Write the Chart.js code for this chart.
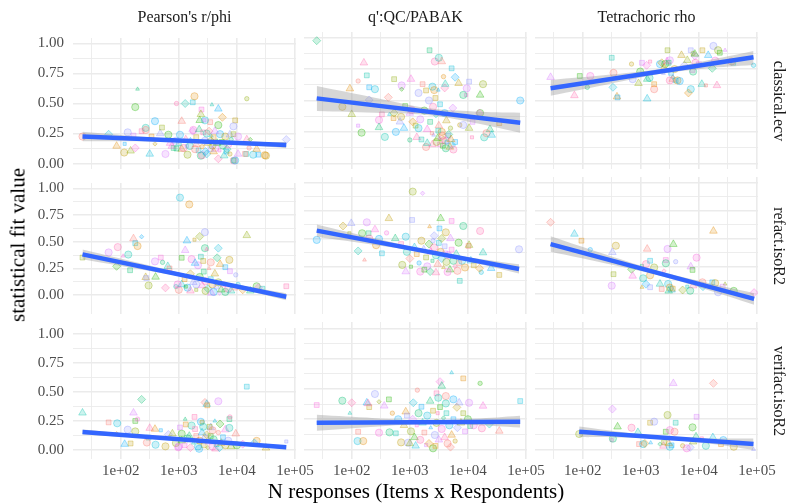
<!DOCTYPE html>
<html><head><meta charset="utf-8">
<script src="https://cdn.jsdelivr.net/npm/chart.js@4.4.1/dist/chart.umd.min.js"></script>
<style>
html,body{margin:0;padding:0;background:#fff;}
#wrap{position:relative;width:792px;height:503px;overflow:hidden;font-family:"Liberation Serif","Times New Roman",serif;}
canvas{position:absolute;}
.t{position:absolute;white-space:nowrap;line-height:1;}
</style></head><body><div id="wrap"></div>
<script>
// ---------- labels ----------
const colNames = ["Pearson's r/phi", "q':QC/PABAK", "Tetrachoric rho"];
const rowNames = ["classical.ecv", "refact.isoR2", "verifact.isoR2"];
const xTitle = "N responses (Items x Respondents)";
const yTitle = "statistical fit value";
const xTickValues = [100, 1000, 10000, 100000];
const xTickLabels = ["1e+02", "1e+03", "1e+04", "1e+05"];
const yTickValues = [0, 0.25, 0.5, 0.75, 1];
const yTickLabels = ["0.00", "0.25", "0.50", "0.75", "1.00"];

// ---------- row 1: classical.ecv ----------
const pearsonEcvX = [22,62,85,117,115,132,148,166,178,178,195,229,269,269,316,339,389,389,479,513,589,661,708,813,912,1288,1122,1738,1862,1047,1122,1380,1413,1738,2291,2455,2399,2512,3715,3467,2818,5623,4786,9333,8710,14790,10470,8710,8913,6761,14790,14450,16220,19050,21880,23440,31620,70790,2399,2754,4786,1778,2239,2630,3020,3311,3631,3981,5129,6310,7586,8710,10470,16980,759,912,1202,1549,1995,2188,2512,2884,3162,3548,3802,4266,4571,5012,5754,4786,6026,13800,9333,30200,1585,1995,2818,3548,4169,5495,7079,7943,1318,1000,1905,3020,3981,6607,7586,891];
const pearsonEcvY = [.225,.244,.146,.164,.092,.26,.106,.233,.47,.13,.62,.27,.297,.28,.08,.225,.353,.164,.25,.30,.08,.24,.17,.13,.50,.50,.353,.51,.56,.24,.12,.146,.074,.27,.36,.45,.066,.07,.49,.345,.36,.385,.455,.36,.31,.54,.08,.026,.025,.12,.20,.08,.13,.074,.12,.074,.066,.20,.41,.36,.32,.28,.283,.26,.25,.27,.23,.22,.245,.225,.24,.245,.225,.20,.146,.125,.13,.146,.16,.11,.14,.10,.17,.12,.15,.13,.17,.11,.15,.04,.066,.08,.026,.07,.20,.22,.19,.19,.27,.18,.16,.20,.20,.17,.12,.08,.10,.10,.08,.19];
const pearsonEcvFitX = [22, 70790], pearsonEcvFitY = [.225, .154];
const pearsonEcvBandX = [22, 316, 2512, 15850, 70790];
const pearsonEcvBandHi = [.265, .220, .191, .182, .180];
const pearsonEcvBandLo = [.185, .184, .175, .152, .128];

const qEcvX = [25,162,182,129,251,93,200,69,200,100,129,148,295,295,331,372,427,447,525,575,708,676,537,724,724,1047,2188,2692,3162,3548,5248,3802,6026,6918,10470,18200,9550,16220,9333,8318,3981,4074,1660,2455,2630,3090,1905,1413,537,1000,832,1072,1000,1318,1585,1905,5248,4898,6026,7244,8318,10470,12020,16220,15850,23990,11750,19050,20890,25700,34670,79430,3802,2570,1259,1514,1778,1995,2239,2512,2818,3162,3311,3548,3981,4266,4571,5012,5495,3020,3311,4169,5623,1995,2399,1413,1122,794,2754,2138,2884,3311,3715,4169,4677,2455,3090,3631,4365,5129];
const qEcvY = [.976,.80,.70,.655,.59,.594,.605,.45,.504,.39,.30,.244,.345,.286,.39,.21,.525,.39,.36,.25,.37,.33,.67,.62,.59,.67,.90,.81,.84,.81,.756,.69,.685,.637,.65,.63,.597,.544,.544,.544,.60,.63,.63,.61,.583,.583,.58,.56,.40,.40,.456,.424,.186,.207,.19,.13,.146,.13,.17,.305,.305,.28,.33,.40,.40,.27,.207,.207,.24,.225,.32,.50,.186,.225,.30,.35,.42,.27,.33,.45,.38,.30,.47,.25,.40,.34,.22,.28,.44,.20,.15,.12,.11,.16,.24,.28,.33,.28,.52,.50,.17,.20,.14,.18,.23,.15,.26,.22,.17,.19];
const qEcvFitX = [25, 79430], qEcvFitY = [.517, .323];
const qEcvBandX = [25, 251, 1995, 12590, 79430];
const qEcvBandHi = [.615, .522, .440, .413, .403];
const qEcvBandLo = [.416, .402, .384, .323, .244];

const tetraEcvX = [28,89,135,120,72,316,339,331,389,398,692,724,912,1047,977,1259,1288,1445,1413,1698,1288,1698,2138,2291,2455,2884,3162,2630,2818,3020,3162,3548,3548,3981,4266,4677,5012,7244,7943,8511,8511,7762,7943,8710,11220,13180,7244,6607,14450,11480,17780,21380,28180,22910,19050,16980,20420,38900,36310,87100,2512,3311,3802,5623,6310,10000];
const tetraEcvY = [.685,.695,.695,.605,.54,.84,.72,.605,.53,.525,.79,.67,.637,.80,.73,.78,.67,.81,.68,.59,.514,.63,.79,.80,.716,.90,.82,.79,.81,.80,.66,.685,.67,.66,.66,.655,.86,.90,.875,.855,.87,.743,.73,.80,.63,.62,.59,.56,.86,.90,.934,.90,.90,.88,.817,.756,.62,.80,.81,.78,.76,.72,.75,.78,.82,.79];
const tetraEcvFitX = [28, 87100], tetraEcvFitY = [.597, .844];
const tetraEcvBandX = [28, 251, 1995, 12590, 87100];
const tetraEcvBandHi = [.663, .702, .748, .815, .894];
const tetraEcvBandLo = [.538, .626, .708, .755, .783];

// ---------- row 2: refact.isoR2 ----------
const pearsonRefX = [22,62,85,110,145,89,135,166,178,195,229,269,275,302,389,398,490,525,589,646,692,1047,1514,1380,1862,2818,2291,1288,1122,1660,2818,3020,2399,3548,4786,5129,6310,7413,9550,14790,7586,21880,23440,16980,70790,891,1000,1122,1259,1413,1585,1778,1995,2138,2291,2512,2692,2884,3162,3311,3548,3802,3981,4169,4467,4786,5012,5370,5754,6310,7079,7943,9333,10470,12590,1905,2630,1995,2884,3631,1318,955,4571,1585,27540];
const pearsonRefY = [.352,.40,.27,.367,.233,.45,.38,.53,.487,.46,.547,.167,.16,.09,.316,.17,.352,.307,.068,.27,.25,.914,.85,.51,.52,.59,.55,.42,.35,.337,.44,.43,.36,.307,.44,.29,.262,.33,.19,.56,.224,.083,.07,.04,.083,.08,.05,.10,.15,.07,.20,.12,.05,.28,.17,.09,.22,.13,.06,.25,.15,.10,.03,.20,.08,.12,.02,.05,.10,.03,.06,.04,.07,.10,.05,.30,.32,.10,.04,.02,.08,.10,.35,.04,.06];
const pearsonRefFitX = [22, 70790], pearsonRefFitY = [.382, -.015];
const pearsonRefBandX = [22, 316, 2512, 15850, 70790];
const pearsonRefBandHi = [.427, .277, .162, .079, .018];
const pearsonRefBandLo = [.337, .227, .138, .039, -.048];

const qRefX = [25,71,98,91,182,151,251,195,200,129,166,331,263,295,437,1096,1122,1660,3388,5248,8318,16220,18200,10230,16980,15850,25120,34670,75860,741,851,1047,1514,2239,2818,7244,6607,851,2188,3236,4169,2630,10470,4074,6918,398,562,708,891,1000,1202,1318,1445,1585,1738,1905,1995,2138,2291,2455,2630,2818,3020,3162,3388,3548,3802,3981,4266,4571,4898,5248,5623,6026,6310,7079,7943,8913,11220,12590,2512,3548,5012,1778,4467];
const qRefY = [.487,.612,.636,.547,.645,.547,.58,.547,.50,.388,.307,.367,.44,.496,.68,.666,.92,.905,.68,.657,.612,.567,.373,.433,.197,.233,.233,.173,.403,.263,.203,.247,.203,.203,.194,.12,.21,.516,.606,.59,.555,.525,.44,.367,.462,.55,.50,.45,.38,.32,.42,.36,.28,.48,.40,.33,.25,.45,.38,.30,.42,.35,.27,.46,.38,.32,.24,.43,.29,.35,.22,.40,.30,.25,.36,.28,.30,.24,.30,.26,.48,.50,.50,.22,.20];
const qRefFitX = [25, 75860], qRefFitY = [.570, .227];
const qRefBandX = [25, 251, 1995, 12590, 75860];
const qRefBandHi = [.625, .501, .395, .326, .268];
const qRefBandLo = [.515, .441, .371, .282, .186];

const tetraRefX = [28,72,95,135,372,324,339,316,692,724,1047,1230,1096,1288,1445,1445,1230,1047,1445,1698,2884,3631,2692,2692,2512,2138,2291,2951,3162,3388,3548,3981,5248,7244,7762,9120,7079,7943,6310,11480,11750,17780,16980,19050,21380,28180,25700,39810,89130,3020];
const tetraRefY = [.645,.54,.48,.40,.435,.376,.18,.077,.224,.164,.254,.27,.143,.406,.30,.17,.09,.063,.063,.24,.406,.448,.307,.278,.209,.092,.047,.092,.06,.04,.05,.292,.038,.247,.218,.328,.032,.077,.068,.107,.068,.567,.107,.10,.018,.092,.068,.03,.015,.03];
const tetraRefFitX = [28, 89130], tetraRefFitY = [.450, -.042];
const tetraRefBandX = [28, 251, 1995, 12590, 89130];
const tetraRefBandHi = [.520, .356, .210, .107, .010];
const tetraRefBandLo = [.380, .276, .170, .047, -.094];

// ---------- row 3: verifact.isoR2 ----------
const pearsonVerX = [22,62,87,85,117,148,132,178,166,178,195,229,316,302,282,398,389,490,589,661,776,1047,1122,977,1288,1862,1660,2818,3020,3090,2399,2512,3548,3388,4786,5129,6310,7413,7586,7413,9550,14790,21880,19950,31620,70790,891,1000,1122,1259,1413,1585,1778,1995,2138,2291,2512,2692,2884,3162,3311,3548,3802,3981,4266,4467,4786,5012,5370,5754,6310,7079,7943,8913,10000,12590,1514,1905,2630,3802,4169,1318,2239,3020];
const pearsonVerY = [.32,.238,.23,.14,.05,.056,.175,.16,.32,.25,.266,.436,.188,.106,.064,.045,.18,.17,.031,.133,.14,.194,.14,.023,.266,.285,.21,.41,.395,.385,.243,.24,.194,.20,.42,.224,.175,.266,.285,.19,.14,.546,.078,.06,.018,.073,.06,.03,.08,.04,.10,.02,.06,.12,.03,.08,.15,.04,.10,.02,.07,.12,.03,.09,.01,.05,.15,.02,.06,.11,.04,.08,.03,.06,.04,.05,.12,.18,.20,.17,.25,.22,.01,.13];
const pearsonVerFitX = [22, 70790], pearsonVerFitY = [.155, .023];
const pearsonVerBandX = [22, 316, 2512, 15850, 70790];
const pearsonVerBandHi = [.177, .124, .084, .058, .041];
const pearsonVerBandLo = [.133, .100, .072, .038, .005];

const qVerX = [25,69,100,93,129,126,158,182,200,251,295,363,437,295,447,191,575,1349,1148,851,1585,708,933,1000,1905,2512,3311,3548,2884,3090,4169,5248,8318,5623,6457,7079,8318,10470,16220,18200,10960,17380,23440,34670,79430,501,631,794,891,1047,1122,1202,1318,1413,1514,1660,1778,1995,2138,2291,2512,2692,2884,3162,3311,3548,3802,3981,4266,4467,4786,5248,5623,6026,6607,7586,8913,10000,12590,2239,3020,4169,5012,1259,2754];
const qVerY = [.367,.403,.386,.30,.147,.07,.07,.386,.35,.458,.394,.36,.414,.139,.142,.38,.134,.49,.386,.312,.353,.059,.056,.05,.037,.01,.56,.524,.464,.427,.441,.634,.587,.414,.348,.386,.30,.386,.546,.359,.194,.175,.21,.153,.40,.30,.25,.20,.28,.15,.25,.10,.20,.30,.08,.22,.14,.28,.05,.18,.32,.12,.22,.08,.35,.17,.26,.10,.30,.05,.20,.12,.25,.07,.18,.22,.15,.25,.20,.40,.30,.38,.02,.03,.03];
const qVerFitX = [25, 79430], qVerFitY = [.221, .230];
const qVerBandX = [25, 251, 1995, 12590, 79430];
const qVerBandHi = [.286, .259, .241, .253, .278];
const qVerBandLo = [.156, .189, .211, .203, .182];

const tetraVerX = [87,324,398,316,331,692,891,933,1096,1175,1479,1445,1698,2884,3631,2692,3162,2138,2455,3981,3802,3162,3020,3388,5248,7079,7943,9120,7762,6166,8913,11220,13180,17780,17380,23990,26300,39810,87100,2512];
const tetraVerY = [.128,.334,.188,.078,.09,.18,.142,.045,.045,.05,.056,.221,.23,.285,.546,.147,.16,.045,.029,.221,.147,.023,.05,.035,.031,.018,.064,.27,.183,.01,.106,.092,.031,.546,.10,.045,.078,.023,.002,.06];
const tetraVerFitX = [87, 87100], tetraVerFitY = [.147, .045];
const tetraVerBandX = [87, 501, 2512, 15850, 87100];
const tetraVerBandHi = [.190, .143, .109, .092, .092];
const tetraVerBandLo = [.104, .099, .085, .048, -.002];

// ---------- assemble panels ----------
const panels = [
  [
    {x: pearsonEcvX, y: pearsonEcvY, fx: pearsonEcvFitX, fy: pearsonEcvFitY, bx: pearsonEcvBandX, hi: pearsonEcvBandHi, lo: pearsonEcvBandLo},
    {x: qEcvX, y: qEcvY, fx: qEcvFitX, fy: qEcvFitY, bx: qEcvBandX, hi: qEcvBandHi, lo: qEcvBandLo},
    {x: tetraEcvX, y: tetraEcvY, fx: tetraEcvFitX, fy: tetraEcvFitY, bx: tetraEcvBandX, hi: tetraEcvBandHi, lo: tetraEcvBandLo}
  ],
  [
    {x: pearsonRefX, y: pearsonRefY, fx: pearsonRefFitX, fy: pearsonRefFitY, bx: pearsonRefBandX, hi: pearsonRefBandHi, lo: pearsonRefBandLo},
    {x: qRefX, y: qRefY, fx: qRefFitX, fy: qRefFitY, bx: qRefBandX, hi: qRefBandHi, lo: qRefBandLo},
    {x: tetraRefX, y: tetraRefY, fx: tetraRefFitX, fy: tetraRefFitY, bx: tetraRefBandX, hi: tetraRefBandHi, lo: tetraRefBandLo}
  ],
  [
    {x: pearsonVerX, y: pearsonVerY, fx: pearsonVerFitX, fy: pearsonVerFitY, bx: pearsonVerBandX, hi: pearsonVerBandHi, lo: pearsonVerBandLo},
    {x: qVerX, y: qVerY, fx: qVerFitX, fy: qVerFitY, bx: qVerBandX, hi: qVerBandHi, lo: qVerBandLo},
    {x: tetraVerX, y: tetraVerY, fx: tetraVerFitX, fy: tetraVerFitY, bx: tetraVerBandX, hi: tetraVerBandHi, lo: tetraVerBandLo}
  ]
];

// ---------- layout / style ----------
const COL_L = [73, 304, 535], ROW_T = [32, 177, 322], PW = 223, PH = 137;
const YW = 60, XH = 30, PADL = 5, PADR = 24, PADT = 12, PADB = 4;
const ROW_YMIN = [-0.045, -0.177, -0.078], ROW_YMAX = [1.045, 1.051, 1.052];
const XMIN = 15.1, XMAX = 104000;
const FONT = "'Liberation Serif', 'Times New Roman', serif";
const PAL = ['#F8766D','#E18A00','#BE9C00','#8CAB00','#24B700','#00BE70','#00C1AB','#00BBDA','#00ACFC','#8B93FF','#D575FE','#F962DD','#FF65AC'];
const SHAPES = ['circle','circle','triangle','rect','circle','rectRot','triangle','rect'];
const RAD = {circle: 3.6, triangle: 4.4, rect: 3.4, rectRot: 4.0};

function rgba(hex, a) {
  const n = parseInt(hex.slice(1), 16);
  return `rgba(${(n>>16)&255},${(n>>8)&255},${n&255},${a})`;
}
const xGrid = [];
xTickValues.forEach(v => { xGrid.push(v / Math.sqrt(10)); xGrid.push(v); });
const yGrid = [];
yTickValues.forEach((v, i) => { if (i > 0) yGrid.push((v + yTickValues[i-1]) / 2); yGrid.push(v); });
const matchIdx = (arr, v) => arr.findIndex(t => Math.abs(t - v) <= Math.abs(t) * 1e-6 + 1e-9);

const wrap = document.getElementById('wrap');
function addText(txt, css) {
  const d = document.createElement('div');
  d.className = 't';
  d.textContent = txt;
  Object.assign(d.style, css);
  wrap.appendChild(d);
}

for (let r = 0; r < 3; r++) {
  for (let c = 0; c < 3; c++) {
    const p = panels[r][c];
    const cv = document.createElement('canvas');
    const cw = PADL + YW + PW + PADR, ch = PADT + PH + XH + PADB;
    cv.width = cw; cv.height = ch;
    cv.style.left = (COL_L[c] - YW - PADL) + 'px';
    cv.style.top = (ROW_T[r] - PADT) + 'px';
    cv.style.width = cw + 'px'; cv.style.height = ch + 'px';
    wrap.appendChild(cv);

    const n = p.x.length;
    const seed = r * 3 + c * 5;
    const styles = [], radii = [], fills = [], borders = [];
    for (let i = 0; i < n; i++) {
      const s = SHAPES[(i * 5 + seed) % SHAPES.length];
      const col = PAL[(i * 7 + seed) % PAL.length];
      styles.push(s);
      radii.push(i % 7 === 3 ? 2.2 : RAD[s]);
      fills.push(rgba(col, 0.2));
      borders.push(rgba(col, 0.34));
    }
    const pts = p.x.map((x, i) => ({x, y: p.y[i]}));
    const fit = p.fx.map((x, i) => ({x, y: p.fy[i]}));
    const hi = p.bx.map((x, i) => ({x, y: p.hi[i]}));
    const lo = p.bx.map((x, i) => ({x, y: p.lo[i]}));

    const gridOpts = (major) => ({
      color: '#EBEBEB',
      drawTicks: false,
      lineWidth: ctx => (ctx.tick && major(ctx.tick.value)) ? 1.6 : 0.9
    });

    new Chart(cv, {
      data: {
        datasets: [
          {type: 'line', data: fit, borderColor: '#3366FF', borderWidth: 4.5, pointRadius: 0, fill: false, borderCapStyle: 'butt'},
          {type: 'line', data: hi, borderWidth: 0, borderColor: 'rgba(0,0,0,0)', pointRadius: 0, tension: 0.4, fill: '+1', backgroundColor: 'rgba(153,153,153,0.4)'},
          {type: 'line', data: lo, borderWidth: 0, borderColor: 'rgba(0,0,0,0)', pointRadius: 0, tension: 0.4, fill: false},
          {type: 'scatter', data: pts, pointStyle: styles, pointRadius: radii, pointBackgroundColor: fills, pointBorderColor: borders, pointBorderWidth: 1, showLine: false}
        ]
      },
      options: {
        responsive: false, animation: false, devicePixelRatio: 1, events: [],
        layout: {autoPadding: false, padding: {left: PADL, right: PADR, top: PADT, bottom: PADB}},
        plugins: {legend: {display: false}, tooltip: {enabled: false}, title: {display: false}},
        scales: {
          x: {
            type: 'logarithmic', position: 'bottom', min: XMIN, max: XMAX, bounds: 'data',
            afterBuildTicks: s => { s.ticks = xGrid.map(v => ({value: v})); },
            afterFit: s => { s.height = XH; },
            grid: gridOpts(v => matchIdx(xTickValues, v) >= 0),
            border: {display: false},
            ticks: {
              display: r === 2, autoSkip: false, maxRotation: 0, minRotation: 0, padding: 3,
              color: '#4D4D4D', font: {family: FONT, size: 15},
              callback: v => { const k = matchIdx(xTickValues, v); return k >= 0 ? xTickLabels[k] : ''; }
            }
          },
          y: {
            type: 'linear', position: 'left', min: ROW_YMIN[r], max: ROW_YMAX[r], bounds: 'data',
            afterBuildTicks: s => { s.ticks = yGrid.map(v => ({value: v})); },
            afterFit: s => { s.width = YW; },
            grid: gridOpts(v => matchIdx(yTickValues, v) >= 0),
            border: {display: false},
            ticks: {
              display: c === 0, autoSkip: false, padding: 9,
              color: '#4D4D4D', font: {family: FONT, size: 15},
              callback: v => { const k = matchIdx(yTickValues, v); return k >= 0 ? yTickLabels[k] : ''; }
            }
          }
        }
      }
    });
  }
}

// strip labels and titles (real text)
colNames.forEach((t, c) => addText(t, {
  left: COL_L[c] + 'px', top: '9px', width: PW + 'px', textAlign: 'center',
  fontSize: '16px', color: '#1A1A1A'
}));
rowNames.forEach((t, r) => addText(t, {
  left: '779px', top: (ROW_T[r] + PH / 2) + 'px', fontSize: '16px', color: '#1A1A1A',
  transform: 'translate(-50%,-50%) rotate(90deg)'
}));
addText(yTitle, {left: '18px', top: '245px', fontSize: '21px', color: '#000',
  transform: 'translate(-50%,-50%) rotate(-90deg)'});
addText(xTitle, {left: '416px', top: '491px', fontSize: '21px', color: '#000',
  transform: 'translate(-50%,-50%)'});
</script>
</body></html>
